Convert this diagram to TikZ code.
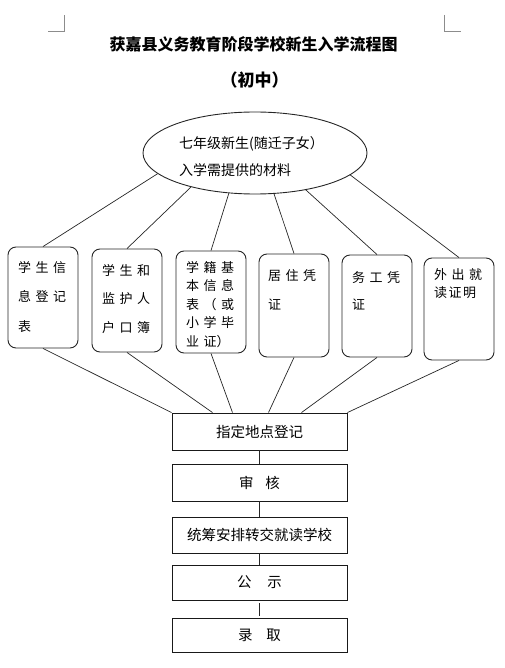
\documentclass[tikz,border=0pt]{standalone}
\usepackage{fontspec}
\setmainfont{Noto Sans CJK SC}
\usetikzlibrary{shapes.geometric}
\newcommand\lsp{\hspace{4.5pt}}
\begin{document}
\begin{tikzpicture}[x=1pt,y=-1pt,
  conn/.style={draw=black!85,line width=0.7pt},
  cornermark/.style={draw=black!45,line width=0.6pt},
  mat/.style={draw=black!85,line width=0.9pt,rounded corners=8pt,minimum width=70pt,inner sep=0pt},
  mtxt/.style={anchor=north west,inner sep=0pt,align=left},
  flow/.style={draw=black!90,line width=0.9pt,minimum width=175pt,minimum height=36pt,inner sep=0pt,font=\fontsize{14.5}{17}\selectfont}]
\useasboundingbox (0,0) rectangle (505,668);
% corner marks
\draw[cornermark] (48,31) -- (64,31) -- (64,15);
\draw[cornermark] (444,15) -- (444,31) -- (461,31);
% title
\node (title) at (253.5,44) {\fontsize{16}{18}\selectfont\bfseries 获嘉县义务教育阶段学校新生入学流程图};
\node (sub) at (254.5,80) {\fontsize{17}{19}\selectfont\bfseries （初中）};
% ellipse
\node[draw=black!85,line width=0.9pt,ellipse,minimum width=224pt,minimum height=82pt,inner sep=0pt] (ell) at (255,153) {};
\node[mtxt,font=\fontsize{14}{27}\selectfont] (elltxt) at (179,136) {七年级新生(随迁子女）\\入学需提供的材料};
% material boxes
\node[mat,minimum height=101pt] (b1) at (43,297.5) {};
\node[mat,minimum height=103pt] (b2) at (127,300.5) {};
\node[mat,minimum height=102pt] (b3) at (211,302) {};
\node[mat,minimum height=103pt] (b4) at (294,305.5) {};
\node[mat,minimum height=102pt] (b5) at (377,306) {};
\node[mat,minimum height=102pt] (b6) at (459,309) {};
\node[mtxt,font=\fontsize{13}{29.5}\selectfont] (t1) at (18,261) {学\lsp 生\lsp 信\\息\lsp 登\lsp 记\\表};
\node[mtxt,font=\fontsize{13}{28.5}\selectfont] (t2) at (102,264) {学\lsp 生\lsp 和\\监\lsp 护\lsp 人\\户\lsp 口\lsp 簿};
\node[mtxt,font=\fontsize{13}{18.5}\selectfont] (t3) at (186,261) {学\lsp 籍\lsp 基\\本\lsp 信\lsp 息\\表\lsp （\lsp 或\\小\lsp 学\lsp 毕\\业\lsp 证）};
\node[mtxt,font=\fontsize{13}{29}\selectfont] (t4) at (268,269) {居\lsp 住\lsp 凭\\证};
\node[mtxt,font=\fontsize{13}{27}\selectfont] (t5) at (352,271) {务\lsp 工\lsp 凭\\证};
\node[mtxt,font=\fontsize{13}{18}\selectfont] (t6) at (434,268) {外\lsp 出\lsp 就\\读\hspace{1.5pt}证\hspace{1.5pt}明};
% flow boxes
\node[flow,minimum height=37pt] (reg) at (259.5,431.5) {指定地点登记};
\node[flow,minimum height=37pt] (sh) at (259.5,482.5) {审\hspace{12pt}核};
\node[flow] (tc) at (259.5,535) {统筹安排转交就读学校};
\node[flow,minimum height=35pt] (gs) at (259.5,582.5) {公\hspace{16pt}示};
\node[flow,minimum height=34pt] (lq) at (259.5,635) {录\hspace{14pt}取};
% connectors ellipse -> boxes
\draw[conn] (ell.192.4) -- (b1.north);
\draw[conn] (ell.208.9) -- (b2.north);
\draw[conn] (ell.237.3) -- (b3.north);
\draw[conn] (ell.295.5) -- (b4.north);
\draw[conn] (ell.324.4) -- (b5.north);
\draw[conn] (ell.347.2) -- (b6.north);
% boxes -> register
\draw[conn] (b1.south) -- (reg.north west);
\draw[conn] (b2.south) -- ([xshift=-47pt]reg.north);
\draw[conn] (b3.south) -- ([xshift=-27pt]reg.north);
\draw[conn] (b4.south) -- ([xshift=9pt]reg.north);
\draw[conn] (b5.south) -- ([xshift=42pt]reg.north);
\draw[conn] (b6.south) -- (reg.north east);
% flow connectors
\draw[conn] (reg.south) -- (sh.north);
\draw[conn] (sh.south) -- (tc.north);
\draw[conn] (tc.south) -- (gs.north);
\draw[conn,shorten <=3pt,shorten >=2pt] (gs.south) -- (lq.north);
\end{tikzpicture}
\end{document}
